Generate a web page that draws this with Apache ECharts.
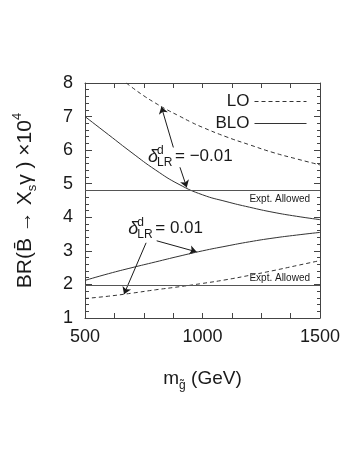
<!DOCTYPE html>
<html><head><meta charset="utf-8">
<script src="https://cdn.jsdelivr.net/npm/echarts@6/dist/echarts.min.js"></script>
<style>html,body{margin:0;padding:0;background:#fff}#c{width:357px;height:462px}</style>
</head><body><div id="c"></div>
<script>
// ---- data ----
const xTickLabels = [500, 1000, 1500];
const yTickLabels = [1, 2, 3, 4, 5, 6, 7, 8];
const loUpperM  = [676, 700, 750, 800, 850, 900, 950, 1000, 1100, 1200, 1300, 1400, 1500];
const loUpperBR = [8.0, 7.87, 7.62, 7.40, 7.20, 7.02, 6.84, 6.68, 6.40, 6.16, 5.93, 5.74, 5.56];
const mGrid      = [500, 600, 700, 800, 900, 1000, 1100, 1200, 1300, 1400, 1500];
const bloUpperBR = [7.00, 6.46, 5.92, 5.41, 4.98, 4.67, 4.47, 4.30, 4.15, 4.03, 3.93];
const bloLowerBR = [2.12, 2.32, 2.50, 2.67, 2.84, 3.00, 3.14, 3.27, 3.38, 3.47, 3.55];
const loLowerBR  = [1.58, 1.65, 1.74, 1.84, 1.93, 2.03, 2.14, 2.27, 2.41, 2.56, 2.71];
const exptLevels = [4.8, 1.99];
const exptLabel = 'Expt. Allowed';
// arrows: [from, to] in (m, BR)
const arrows = [
  [[876, 6.08], [825, 7.29]],
  [[904, 5.49], [933, 4.89]],
  [[805, 3.30], [975, 2.97]],
  [[760, 3.24], [666, 1.71]]
];
// annotation labels: anchor (m, BR) and value text
const annotations = [
  { at: [768, 5.83], value: '= \u22120.01' },
  { at: [684, 3.68], value: '= 0.01' }
];

const ink = '#1a1a1a';
const lineCol = '#333';
const FONT = 'Liberation Sans, Arial, sans-serif';

const zip = (xs, ys) => xs.map((x, i) => [x, ys[i]]);

const chart = echarts.init(document.getElementById('c'), null, { renderer: 'canvas' });

const axisCommon = {
  axisLine: { show: true, lineStyle: { color: '#444', width: 1 } },
  splitLine: { show: false }
};

const legendCommon = {
  right: 50, padding: 0, align: 'right', itemWidth: 52, itemHeight: 14, selectedMode: false,
  textStyle: { fontSize: 17, fontFamily: FONT, color: ink },
  itemStyle: { color: 'rgba(0,0,0,0)', borderColor: 'rgba(0,0,0,0)', borderWidth: 0 },
  lineStyle: { width: 1 }
};

const option = {
  animation: false,
  backgroundColor: '#fff',
  grid: { left: 85, right: 37, top: 83, bottom: 144 },
  legend: [
    Object.assign({ data: ['LO'], top: 93 }, legendCommon),
    Object.assign({ data: ['BLO'], top: 115 }, legendCommon)
  ],
  xAxis: [
    Object.assign({
      type: 'value', min: 500, max: 1500, interval: 125, position: 'bottom',
      axisTick: { show: true, inside: true, length: 5, lineStyle: { color: '#444' } },
      axisLabel: { formatter: v => xTickLabels.includes(v) ? String(v) : '', fontSize: 18, fontFamily: FONT, color: ink, margin: 10 },
      name: '{m|m}{s|g\u0303}{m| (GeV)}',
      nameLocation: 'middle', nameGap: 48,
      nameTextStyle: { rich: {
        m: { fontSize: 19, fontFamily: FONT, color: ink, lineHeight: 26 },
        s: { fontSize: 12, fontFamily: FONT, color: ink, lineHeight: 14, verticalAlign: 'bottom' }
      } }
    }, axisCommon),
    Object.assign({
      type: 'value', min: 500, max: 1500, interval: 125, position: 'top',
      axisTick: { show: true, inside: true, length: 5, lineStyle: { color: '#444' } },
      axisLabel: { show: false }
    }, axisCommon)
  ],
  yAxis: [
    Object.assign({
      type: 'value', min: 1, max: 8, interval: 1, position: 'left',
      axisTick: { show: true, inside: true, length: 7, lineStyle: { color: '#444' } },
      minorTick: { show: true, splitNumber: 5, length: 4, lineStyle: { color: '#444' } },
      minorSplitLine: { show: false },
      axisLabel: { formatter: v => yTickLabels.includes(v) ? String(v) : '', fontSize: 18, fontFamily: FONT, color: ink, margin: 12 },
      name: '{m|BR(B\u0304 \u2192 X}{s|s}{m|\u03b3 ) \u00d710}{p|4}',
      nameLocation: 'middle', nameGap: 46,
      nameTextStyle: { rich: {
        m: { fontSize: 21, fontFamily: FONT, color: ink, lineHeight: 28 },
        s: { fontSize: 13, fontFamily: FONT, color: ink, lineHeight: 14, verticalAlign: 'bottom' },
        p: { fontSize: 13, fontFamily: FONT, color: ink, lineHeight: 14, verticalAlign: 'top' }
      } }
    }, axisCommon),
    Object.assign({
      type: 'value', min: 1, max: 8, interval: 1, position: 'right',
      axisTick: { show: true, inside: true, length: 6, lineStyle: { color: '#444' } },
      minorTick: { show: true, splitNumber: 5, length: 3, lineStyle: { color: '#444' } },
      minorSplitLine: { show: false },
      axisLabel: { show: false }
    }, axisCommon)
  ],
  series: [
    { name: 'LO', type: 'line', data: zip(loUpperM, loUpperBR), smooth: true, symbol: 'none',
      lineStyle: { color: lineCol, width: 1, type: [4, 3] }, itemStyle: { color: lineCol } },
    { name: 'LO', type: 'line', data: zip(mGrid, loLowerBR), smooth: true, symbol: 'none',
      lineStyle: { color: lineCol, width: 1, type: [4, 3] }, itemStyle: { color: lineCol } },
    { name: 'BLO', type: 'line', data: zip(mGrid, bloUpperBR), smooth: true, symbol: 'none',
      lineStyle: { color: lineCol, width: 1, type: 'solid' }, itemStyle: { color: lineCol } },
    { name: 'BLO', type: 'line', data: zip(mGrid, bloLowerBR), smooth: true, symbol: 'none',
      lineStyle: { color: lineCol, width: 1, type: 'solid' }, itemStyle: { color: lineCol },
      markLine: {
        silent: true, symbol: 'none', animation: false,
        lineStyle: { color: '#555', width: 1, type: 'solid' },
        label: { show: true, formatter: exptLabel, fontSize: 10, fontFamily: FONT, color: ink },
        data: exptLevels.map((v, i) => ({ yAxis: v, label: i === 0
          ? { position: 'insideEndBottom', distance: [10, 4] }
          : { position: 'insideEndTop', distance: [10, 2] } }))
      }
    },
    { name: 'arrows', type: 'lines', coordinateSystem: 'cartesian2d', silent: true,
      symbol: ['none', 'arrow'], symbolSize: [1, 7],
      lineStyle: { color: ink, width: 1, opacity: 1 },
      data: arrows.map(a => ({ coords: a }))
    }
  ]
};
chart.setOption(option);

// annotation labels  δ^d_LR = value
const graphics = annotations.map(a => {
  const p = chart.convertToPixel({ xAxisIndex: 0, yAxisIndex: 0 }, a.at);
  return {
    type: 'group', x: p[0], y: p[1], silent: true,
    children: [
      { type: 'text', x: 0, y: 1, style: { text: '\u03b4', fontSize: 18, fontStyle: 'italic', fontFamily: FONT, fill: ink, verticalAlign: 'middle', align: 'left' } },
      { type: 'text', x: 9, y: -5, style: { text: 'd', fontSize: 12, fontFamily: FONT, fill: ink, verticalAlign: 'middle', align: 'left' } },
      { type: 'text', x: 9, y: 7, style: { text: 'LR', fontSize: 12, fontFamily: FONT, fill: ink, verticalAlign: 'middle', align: 'left' } },
      { type: 'text', x: 27, y: 0, style: { text: a.value, fontSize: 17, fontFamily: FONT, fill: ink, verticalAlign: 'middle', align: 'left' } }
    ]
  };
});
chart.setOption({ graphic: graphics });
</script>
</body></html>
